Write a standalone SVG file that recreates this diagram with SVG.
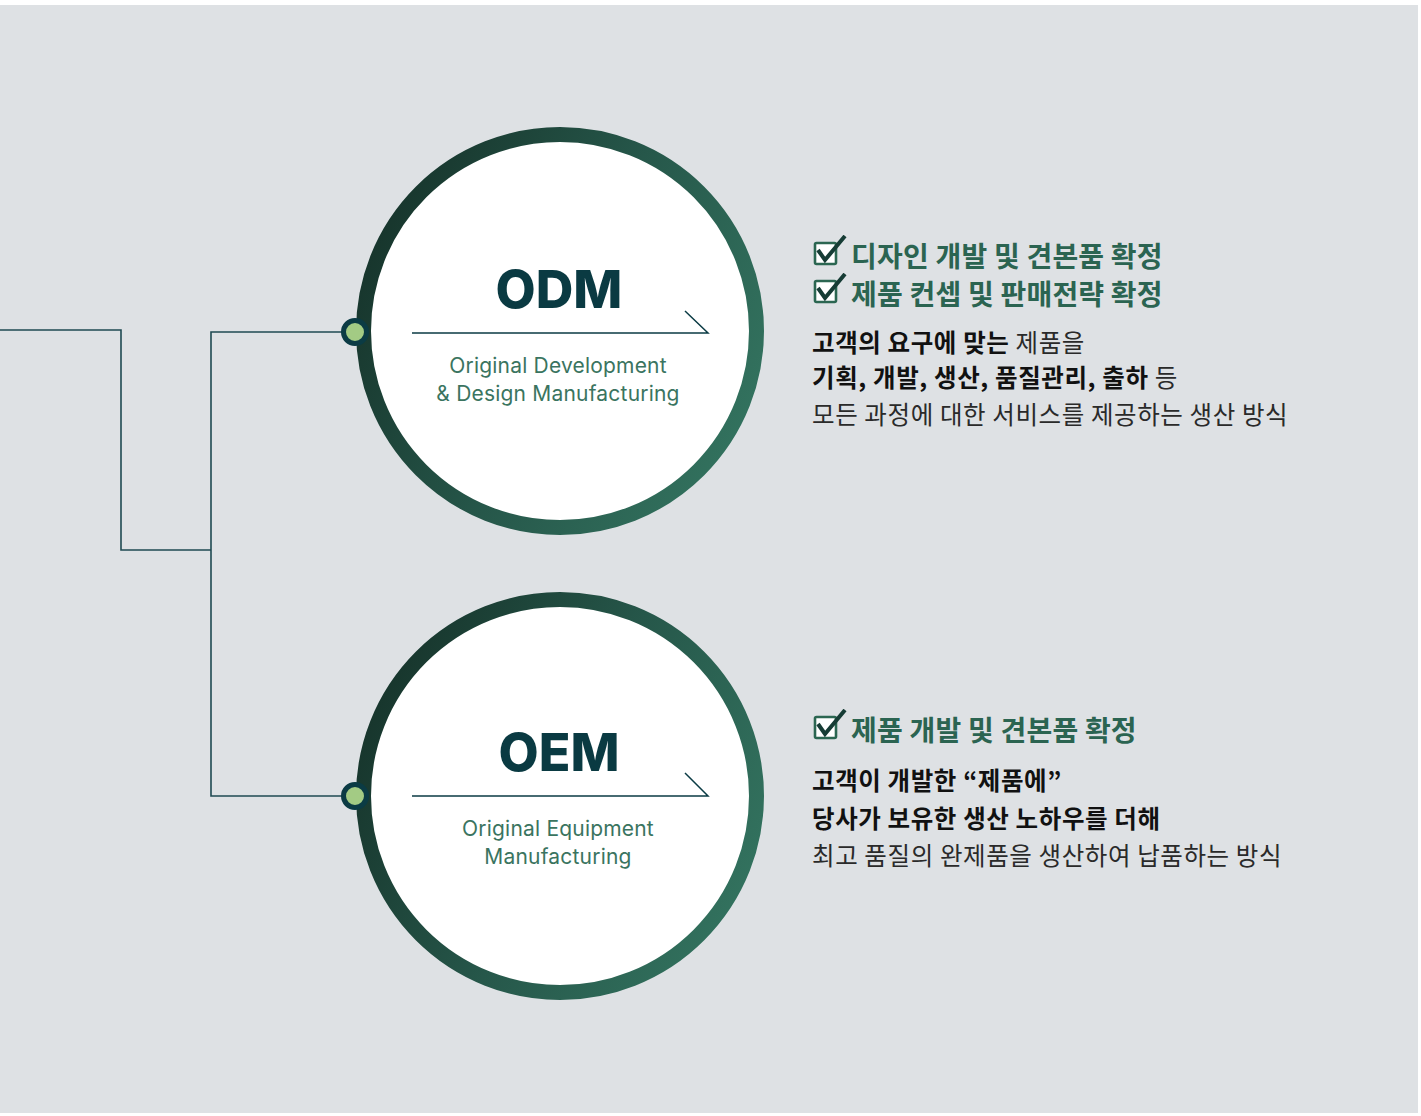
<svg xmlns="http://www.w3.org/2000/svg" width="1421" height="1116" viewBox="0 0 1421 1116">
  <defs>
    <linearGradient id="ring" x1="0" y1="0.3" x2="1" y2="0.75">
      <stop offset="0" stop-color="#17352c"/>
      <stop offset="0.5" stop-color="#26574a"/>
      <stop offset="1" stop-color="#33735f"/>
    </linearGradient>
    <symbol id="chk" viewBox="0 0 34 32" width="34" height="32">
      <rect x="2" y="8" width="21" height="21" rx="1.5" fill="#ffffff" stroke="#2b6651" stroke-width="2.6"/>
      <path d="M5 15 L12 25 L32 1" fill="none" stroke="#163c35" stroke-width="4" stroke-linejoin="miter"/>
    </symbol>
    <style>
      .abbr{font-family:Inter,"Noto Sans",sans-serif;font-weight:800;fill:#0a3a42;text-anchor:middle}
      .sub{font-family:Inter,"Noto Sans",sans-serif;font-weight:400;font-size:21px;letter-spacing:0.2px;fill:#3a7460;text-anchor:middle}
      .conn{fill:none;stroke:#1f4a52;stroke-width:1.6}
      .pline{fill:none;stroke:#0b3b44;stroke-width:1.5}
      .hd{font-family:"Noto Sans CJK KR",sans-serif;font-weight:700;font-size:28px;fill:#2b6451;letter-spacing:0.2px}
      .bd{font-family:"Noto Sans CJK KR",sans-serif;font-size:24.5px;fill:#1a1a1a;letter-spacing:0.6px}
      .b{font-weight:700;fill:#111}
      .n{font-weight:400;fill:#2a2a2a}
    </style>
  </defs>
  <rect x="0" y="0" width="1421" height="1116" fill="#ffffff"/>
  <rect x="0" y="5" width="1418" height="1108" fill="#dee1e4"/>

  <g id="connectors">
    <path class="conn" d="M0 330 H121 V550 H211"/>
    <path class="conn" d="M345 332 H211 V796 H345"/>
  </g>

  <g id="odm">
    <circle cx="560" cy="331" r="196.5" fill="#ffffff" stroke="url(#ring)" stroke-width="15"/>
    <text class="abbr" x="559" y="308" font-size="52">ODM</text>
    <path class="pline" d="M412 333 H708 L685 311"/>
    <text class="sub" x="558" y="373">Original Development</text>
    <text class="sub" x="558" y="401">&amp; Design Manufacturing</text>
    <circle cx="355" cy="332" r="11.5" fill="#a3cb84" stroke="#0b3b44" stroke-width="5"/>
  </g>

  <g id="oem">
    <circle cx="560" cy="796" r="196.5" fill="#ffffff" stroke="url(#ring)" stroke-width="15"/>
    <text class="abbr" x="559" y="771" font-size="52">OEM</text>
    <path class="pline" d="M412 796 H708 L685 773"/>
    <text class="sub" x="558" y="836">Original Equipment</text>
    <text class="sub" x="558" y="864">Manufacturing</text>
    <circle cx="355" cy="796" r="11.5" fill="#a3cb84" stroke="#0b3b44" stroke-width="5"/>
  </g>

  <g id="odm-desc">
    <use href="#chk" x="813" y="235"/>
    <text class="hd" x="851" y="267">디자인 개발 및 견본품 확정</text>
    <use href="#chk" x="813" y="273"/>
    <text class="hd" x="851" y="305">제품 컨셉 및 판매전략 확정</text>
    <text class="bd" x="812" y="352"><tspan class="b">고객의 요구에 맞는</tspan><tspan class="n"> 제품을</tspan></text>
    <text class="bd" x="812" y="387"><tspan class="b">기획, 개발, 생산, 품질관리, 출하</tspan><tspan class="n"> 등</tspan></text>
    <text class="bd n" x="812" y="424">모든 과정에 대한 서비스를 제공하는 생산 방식</text>
  </g>

  <g id="oem-desc">
    <use href="#chk" x="813" y="709"/>
    <text class="hd" x="851" y="741">제품 개발 및 견본품 확정</text>
    <text class="bd b" x="812" y="790">고객이 개발한 “제품에”</text>
    <text class="bd b" x="812" y="828">당사가 보유한 생산 노하우를 더해</text>
    <text class="bd n" x="812" y="865">최고 품질의 완제품을 생산하여 납품하는 방식</text>
  </g>
</svg>
